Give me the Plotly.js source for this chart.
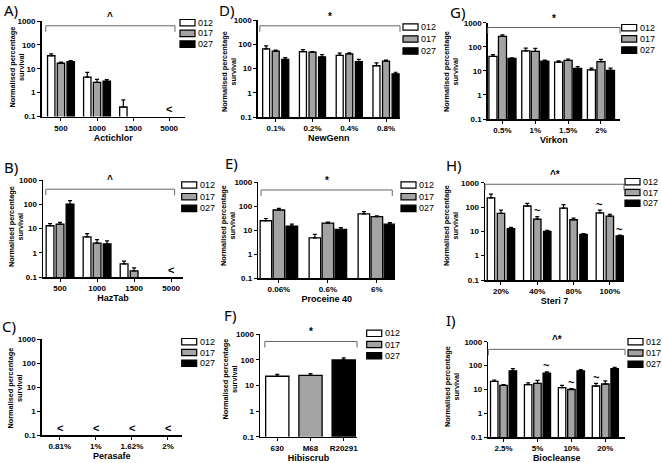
<!DOCTYPE html>
<html><head><meta charset="utf-8">
<script src="https://cdn.plot.ly/plotly-3.0.1.min.js"></script>
<style>html,body{margin:0;padding:0;background:#fff}#chart{width:662px;height:463px}</style>
</head><body><div id="chart"></div>
<script>
const seriesNames = ['012', '017', '027'];
const seriesColors = ['#ffffff', '#a3a3a3', '#000000'];
const yTickVals = [0.1, 1, 10, 100, 1000];
const yTickText = ['0.1', '1', '10', '100', '1000'];
const yTitle = 'Normalised percentage<br>survival';
const belowLimitValue = 0.2;

// A) Actichlor
const actichlorCats = ['500', '1000', '1500', '5000'];
const actichlor012 = [35, 4.5, 0.25, null];
const actichlor017 = [17, 2.7, null, null];
const actichlor027 = [20, 3.0, null, null];
const actichlorErr012 = [7, 2.5, 0.25, null];
const actichlorErr017 = [2, 0.9, null, null];
const actichlorErr027 = [2, 0.5, null, null];
const actichlorBelow = ['5000'];

// B) HazTab
const hazTabCats = ['500', '1000', '1500', '5000'];
const hazTab012 = [13, 4.5, 0.35, null];
const hazTab017 = [15, 2.5, 0.18, null];
const hazTab027 = [100, 2.3, null, null];
const hazTabErr012 = [3, 1.7, 0.1, null];
const hazTabErr017 = [3, 1.0, 0.06, null];
const hazTabErr027 = [40, 0.8, null, null];
const hazTabBelow = ['5000'];

// C) Perasafe
const perasafeCats = ['0.81%', '1%', '1.62%', '2%'];
const perasafe012 = [null, null, null, null];
const perasafe017 = [null, null, null, null];
const perasafe027 = [null, null, null, null];
const perasafeBelow = ['0.81%', '1%', '1.62%', '2%'];

// D) NewGenn
const newGennCats = ['0.1%', '0.2%', '0.4%', '0.8%'];
const newGenn012 = [65, 50, 35, 13];
const newGenn017 = [52, 47, 40, 20];
const newGenn027 = [24, 30, 19, 6];
const newGennErr012 = [20, 10, 8, 4];
const newGennErr017 = [5, 3, 4, 2];
const newGennErr027 = [4, 7, 5, 1];

// E) Proceine 40
const proceineCats = ['0.06%', '0.6%', '6%'];
const proceine012 = [25, 4.8, 48];
const proceine017 = [70, 20, 37];
const proceine027 = [15, 11, 18];
const proceineErr012 = [6, 2, 12];
const proceineErr017 = [12, 2, 3];
const proceineErr027 = [3, 2, 3];

// F) Hibiscrub
const hibiscrubCats = ['630', 'M68', 'R20291'];
const hibiscrub012 = [23, null, null];
const hibiscrub017 = [null, 25, null];
const hibiscrub027 = [null, null, 100];
const hibiscrubErr012 = [4, null, null];
const hibiscrubErr017 = [null, 4, null];
const hibiscrubErr027 = [null, null, 20];

// G) Virkon
const virkonCats = ['0.5%', '1%', '1.5%', '2%'];
const virkon012 = [40, 68, 23, 11];
const virkon017 = [270, 65, 27, 24];
const virkon027 = [33, 25, 12.5, 10.5];
const virkonErr012 = [7, 20, 3, 2];
const virkonErr017 = [40, 20, 4, 6];
const virkonErr027 = [2, 3, 2.5, 2.5];

// H) Steri 7
const steri7Cats = ['20%', '40%', '80%', '100%'];
const steri7012 = [240, 110, 90, 58];
const steri7017 = [55, 32, 30, 42];
const steri7027 = [13, 10, 7.5, 6.5];
const steri7Err012 = [100, 30, 35, 17];
const steri7Err017 = [20, 8, 5, 8];
const steri7Err027 = [1.5, 1, 0.5, 0.5];
const steri7Tilde = [['40%', '017'], ['100%', '012'], ['100%', '027']];

// I) Biocleanse
const biocleanseCats = ['2.5%', '5%', '10%', '20%'];
const biocleanse012 = [22, 16, 12, 14];
const biocleanse017 = [15, 18, 10, 17];
const biocleanse027 = [60, 48, 60, 75];
const biocleanseErr012 = [3, 3, 3, 4];
const biocleanseErr017 = [1, 6, 1, 6];
const biocleanseErr027 = [15, 7, 8, 10];
const biocleanseTilde = [['5%', '027'], ['10%', '017'], ['20%', '012']];

const W = 662, H = 463;
const panels = [
  {label: 'A)', title: 'Actichlor', cats: actichlorCats, vals: [actichlor012, actichlor017, actichlor027],
   errs: [actichlorErr012, actichlorErr017, actichlorErr027], below: actichlorBelow, tilde: [], sig: '^',
   box: [41.5, 185, 21, 116.5], range: [-0.54, 3.44], pitch: 0.27, bw: 0.205, bracket: [0.03, 0.93, 0.95],
   legend: [180, 22.7, 10.7], lab: [11, 10], yt: [16.5, 67]},
  {label: 'B)', title: 'HazTab', cats: hazTabCats, vals: [hazTab012, hazTab017, hazTab027],
   errs: [hazTabErr012, hazTabErr017, hazTabErr027], below: hazTabBelow, tilde: [], sig: '^',
   box: [43, 183, 180, 277], range: [-0.46, 3.32], pitch: 0.27, bw: 0.21, bracket: [0.02, 0.94, 0.905],
   legend: [181.7, 185, 11.7], lab: [11, 167], yt: [16, 227]},
  {label: 'C)', title: 'Perasafe', cats: perasafeCats, vals: [perasafe012, perasafe017, perasafe027],
   errs: [null, null, null], below: perasafeBelow, tilde: [], sig: null,
   box: [41.7, 181.7, 339, 435], range: [-0.5, 3.38], pitch: 0.27, bw: 0.21, bracket: null,
   legend: [181.7, 341.7, 10.8], lab: [9, 326], yt: [14.5, 388]},
  {label: 'D)', title: 'NewGenn', cats: newGennCats, vals: [newGenn012, newGenn017, newGenn027],
   errs: [newGennErr012, newGennErr017, newGennErr027], below: [], tilde: [], sig: '*',
   box: [257.7, 400, 20, 117], range: [-0.49, 3.38], pitch: 0.26, bw: 0.19, bracket: [0.015, 1.0, 0.94],
   legend: [403, 27, 12], lab: [227, 10], yt: [229, 72]},
  {label: 'E)', title: 'Proceine 40', cats: proceineCats, vals: [proceine012, proceine017, proceine027],
   errs: [proceineErr012, proceineErr017, proceineErr027], below: [], tilde: [], sig: '*',
   box: [258.3, 395, 182.3, 278.3], range: [-0.42, 2.37], pitch: 0.265, bw: 0.235, bracket: [0.02, 0.98, 0.92],
   legend: [401, 185, 11.7], lab: [231, 163], yt: [228, 226]},
  {label: 'F)', title: 'Hibiscrub', cats: hibiscrubCats, vals: [hibiscrub012, hibiscrub017, hibiscrub027],
   errs: [hibiscrubErr012, hibiscrubErr017, hibiscrubErr027], below: [], tilde: [], sig: '*', single: true,
   box: [260, 357, 334.3, 436.7], range: [-0.52, 2.4], pitch: 0, bw: 0.7, bracket: [0.05, 1.0, 0.93],
   legend: [366.7, 333.3, 11.2], lab: [230, 315], yt: [229.5, 379]},
  {label: 'G)', title: 'Virkon', cats: virkonCats, vals: [virkon012, virkon017, virkon027],
   errs: [virkonErr012, virkonErr017, virkonErr027], below: [], tilde: [], sig: '*',
   box: [487.7, 620, 22.7, 119], range: [-0.45, 3.58], pitch: 0.29, bw: 0.245, bracket: [0.0, 1.0, 0.95],
   legend: [621.7, 27.7, 11.2], lab: [457, 12], yt: [451, 72]},
  {label: 'H)', title: 'Steri 7', cats: steri7Cats, vals: [steri7012, steri7017, steri7027],
   errs: [steri7Err012, steri7Err017, steri7Err027], below: [], tilde: steri7Tilde, sig: '^*',
   box: [485, 624, 182.7, 280], range: [-0.44, 3.39], pitch: 0.275, bw: 0.205, bracket: [0.0, 1.0, 0.984],
   legend: [625, 181.7, 10.8], lab: [454, 165], yt: [451, 226]},
  {label: 'I)', title: 'Biocleanse', cats: biocleanseCats, vals: [biocleanse012, biocleanse017, biocleanse027],
   errs: [biocleanseErr012, biocleanseErr017, biocleanseErr027], below: [], tilde: biocleanseTilde, sig: '^*',
   box: [488.3, 625, 341.7, 437.3], range: [-0.45, 3.58], pitch: 0.275, bw: 0.22, bracket: [0.0, 1.0, 0.92],
   legend: [628, 341.7, 11.3], lab: [451, 320], yt: [452, 387]}
];

const fam = 'Liberation Sans, Arial, sans-serif';
const boldFont = {family: fam, weight: 'bold', color: '#000000'};
const traces = [], annotations = [], shapes = [];
const layout = {
  width: W, height: H, margin: {l: 0, r: 0, t: 0, b: 0},
  paper_bgcolor: '#fff', plot_bgcolor: '#fff', showlegend: false,
  font: {family: fam, color: '#000000'},
  annotations, shapes
};

panels.forEach((p, i) => {
  const n = i + 1, xs = n === 1 ? '' : String(n);
  const xa = 'x' + xs, ya = 'y' + xs;
  layout['xaxis' + xs] = {
    domain: [p.box[0] / W, p.box[1] / W], anchor: ya, type: 'category', range: p.range,
    showline: true, linecolor: '#000', linewidth: 1.5, ticks: 'outside', ticklen: 3, tickwidth: 1, tickcolor: '#000',
    showgrid: false, zeroline: false, tickfont: Object.assign({size: 8}, boldFont),
    title: {text: p.title, font: Object.assign({size: 9}, boldFont), standoff: 2}
  };
  layout['yaxis' + xs] = {
    domain: [1 - p.box[3] / H, 1 - p.box[2] / H], anchor: xa, type: 'log', range: [-1, 3],
    tickvals: yTickVals, ticktext: yTickText,
    showline: true, linecolor: '#000', linewidth: 1.5, ticks: 'outside', ticklen: 3, tickwidth: 1, tickcolor: '#000',
    showgrid: false, zeroline: false, tickfont: Object.assign({size: 8}, boldFont)
  };
  // y-axis title (rotated text, placed as close to the ticks as in the reference)
  annotations.push({xref: 'paper', yref: 'paper', x: p.yt[0] / W, y: 1 - p.yt[1] / H, text: yTitle, textangle: -90,
    showarrow: false, xanchor: 'center', yanchor: 'middle', align: 'center',
    font: Object.assign({size: 7.3}, boldFont)});
  p.vals.forEach((v, s) => {
    const t = {
      type: 'bar', x: p.cats, y: v, xaxis: xa, yaxis: ya, name: seriesNames[s], showlegend: false,
      offset: p.single ? -p.bw / 2 : (s - 1) * p.pitch - p.bw / 2, width: p.bw,
      marker: {color: seriesColors[s], line: {color: '#000', width: 1.3}},
      hoverinfo: 'x+y+name'
    };
    if (p.errs[s]) {
      t.error_y = {type: 'data', symmetric: false, array: p.errs[s], arrayminus: p.errs[s].map(() => 0),
                   color: '#000', thickness: 1.2, width: 2};
    }
    traces.push(t);
  });
  // below detection limit markers
  p.below.forEach(c => {
    annotations.push({xref: xa, yref: ya, x: p.cats.indexOf(c), y: Math.log10(belowLimitValue), text: '<',
      showarrow: false, font: Object.assign({size: 11}, boldFont), yanchor: 'middle'});
  });
  // tilde markers
  p.tilde.forEach(([c, sName]) => {
    const s = seriesNames.indexOf(sName), ci = p.cats.indexOf(c);
    const top = p.vals[s][ci] + p.errs[s][ci];
    annotations.push({xref: xa, yref: ya, x: ci + (s - 1) * p.pitch, y: Math.log10(top) + 0.27, text: '~',
      showarrow: false, font: Object.assign({size: 11}, boldFont), yanchor: 'middle'});
  });
  // significance bracket
  if (p.bracket) {
    const [b0, b1, by] = p.bracket, drop = 6 / (p.box[3] - p.box[2]);
    const line = {color: '#666', width: 1};
    const xd = xa + ' domain', yd = ya + ' domain';
    shapes.push({type: 'line', xref: xd, yref: yd, x0: b0, x1: b1, y0: by, y1: by, line});
    shapes.push({type: 'line', xref: xd, yref: yd, x0: b0, x1: b0, y0: by, y1: by - drop, line});
    shapes.push({type: 'line', xref: xd, yref: yd, x0: b1, x1: b1, y0: by, y1: by - drop, line});
    annotations.push({xref: xd, yref: yd, x: (b0 + b1) / 2, y: by, yshift: 2, text: p.sig, showarrow: false,
      yanchor: 'bottom', font: Object.assign({size: 10}, boldFont)});
  }
  // manual legend
  const [lx, ly, dy] = p.legend;
  seriesNames.forEach((sn, s) => {
    const cy = ly + s * dy;
    shapes.push({type: 'rect', xref: 'paper', yref: 'paper', x0: lx / W, x1: (lx + 15) / W,
      y0: 1 - (cy + 3.2) / H, y1: 1 - (cy - 3.2) / H, fillcolor: seriesColors[s], line: {color: '#000', width: 1.2}});
    annotations.push({xref: 'paper', yref: 'paper', x: (lx + 16) / W, y: 1 - cy / H, text: sn, showarrow: false,
      xanchor: 'left', yanchor: 'middle', font: {family: fam, size: 9, color: '#000'}});
  });
  // panel label
  annotations.push({xref: 'paper', yref: 'paper', x: p.lab[0] / W, y: 1 - p.lab[1] / H, text: p.label, showarrow: false,
    xanchor: 'center', yanchor: 'middle', borderpad: 0,
    font: {family: 'Noto Sans, Open Sans, sans-serif', size: 15, color: '#000'}});
});

Plotly.newPlot('chart', traces, layout, {displayModeBar: false, staticPlot: true});
</script>
</body></html>
